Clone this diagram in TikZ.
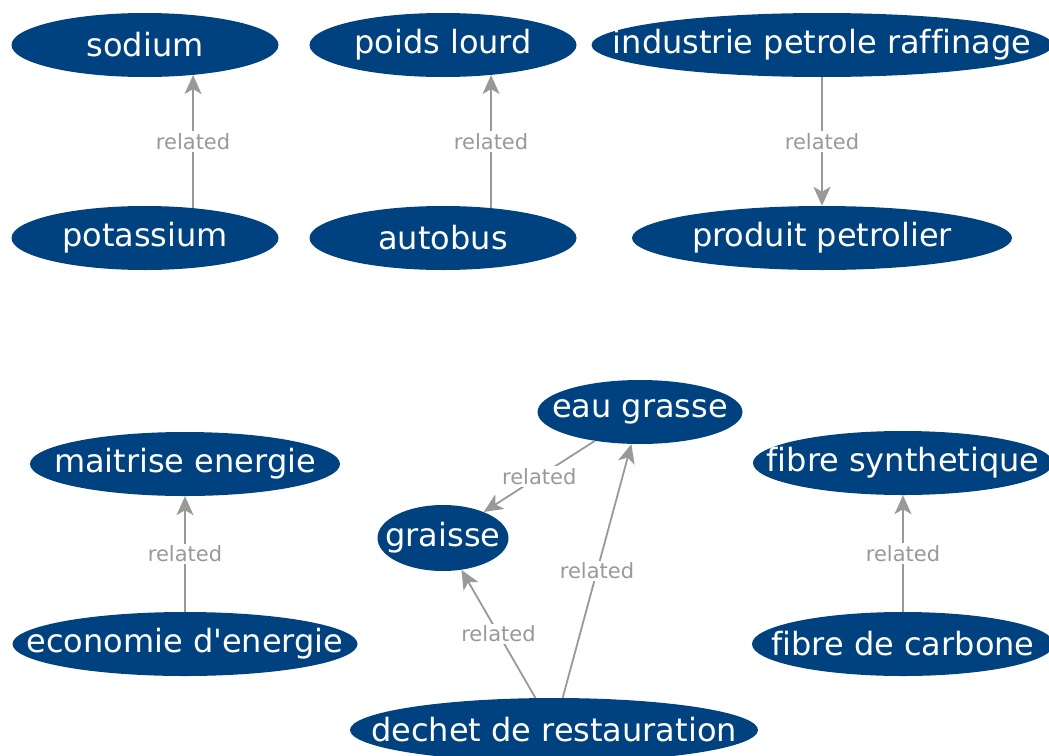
\documentclass[tikz,border=0pt]{standalone}
\usepackage{fontspec}
\setmainfont[Ligatures=NoCommon]{DejaVu Sans}
\usepackage{tikz}
\usetikzlibrary{
    arrows.meta,
    shapes.geometric
}
\definecolor{termblue}{RGB}{0,66,128}
\definecolor{linkgrey}{RGB}{153,153,153}
% text that does not widen its ellipse
\newcommand{\termtext}[1]{\makebox[0pt]{#1}}
\tikzset{
    term/.style={
        ellipse,
        fill=termblue,
        text=white,
        inner sep=0pt,
        minimum height=64pt,
        font=\fontsize{32}{36}\selectfont
    },
    relation/.style={
        -{Stealth[length=19pt, width=17pt, inset=5pt]},
        draw=linkgrey,
        line width=1.8pt
    },
    rellabel/.style={
        fill=white,
        text=linkgrey,
        inner sep=2pt,
        font=\fontsize{21}{24}\selectfont
    }
}

\begin{document}
\begin{tikzpicture}[x=1pt, y=-1pt]

    \useasboundingbox (0,0) rectangle (1049,755);

    % Upper row
    \node[term, minimum width=267pt] (sodium) at (145, 45) {\termtext{sodium}};
    \node[term, minimum width=267pt] (potassium) at (145, 238) {\termtext{potassium}};
    \node[term, minimum width=267pt] (poids) at (443, 45) {\termtext{poids lourd}};
    \node[term, minimum width=267pt] (autobus) at (443, 238) {\termtext{autobus}};
    \node[term, minimum width=461pt] (industrie) at (822, 45) {\termtext{industrie petrole raffinage}};
    \node[term, minimum width=380pt] (produit) at (822, 238) {\termtext{produit petrolier}};

    \draw[relation] (potassium.32.5) -- node[rellabel] {related} (sodium.-32.5);
    \draw[relation] (autobus.32.5) -- node[rellabel] {related} (poids.-32.5);
    \draw[relation] (industrie.south) -- node[rellabel] {related} (produit.north);

    % Lower row
    \node[term, minimum width=310pt] (maitrise) at (185, 464) {\termtext{maitrise energie}};
    \node[term, minimum width=345pt] (economie) at (185, 644) {\termtext{economie d\textquotesingle energie}};
    \node[term, minimum width=205pt] (eau) at (640, 412) {\termtext{eau grasse}};
    \node[term, minimum width=131pt, minimum height=66pt] (graisse) at (443, 538) {\termtext{graisse}};
    \node[term, minimum width=408pt] (dechet) at (554, 730) {\termtext{dechet de restauration}};
    \node[term, minimum width=300pt] (synth) at (903, 463) {\termtext{fibre synthetique}};
    \node[term, minimum width=302pt] (carbone) at (903, 644) {\termtext{fibre de carbone}};

    \draw[relation] (economie) -- node[rellabel] {related} (maitrise);
    \draw[relation] (eau) -- node[rellabel] {related} (graisse);
    \draw[relation] (dechet) -- node[rellabel] {related} (graisse);
    \draw[relation] (dechet) -- node[rellabel] {related} (eau);
    \draw[relation] (carbone) -- node[rellabel] {related} (synth);

\end{tikzpicture}
\end{document}
